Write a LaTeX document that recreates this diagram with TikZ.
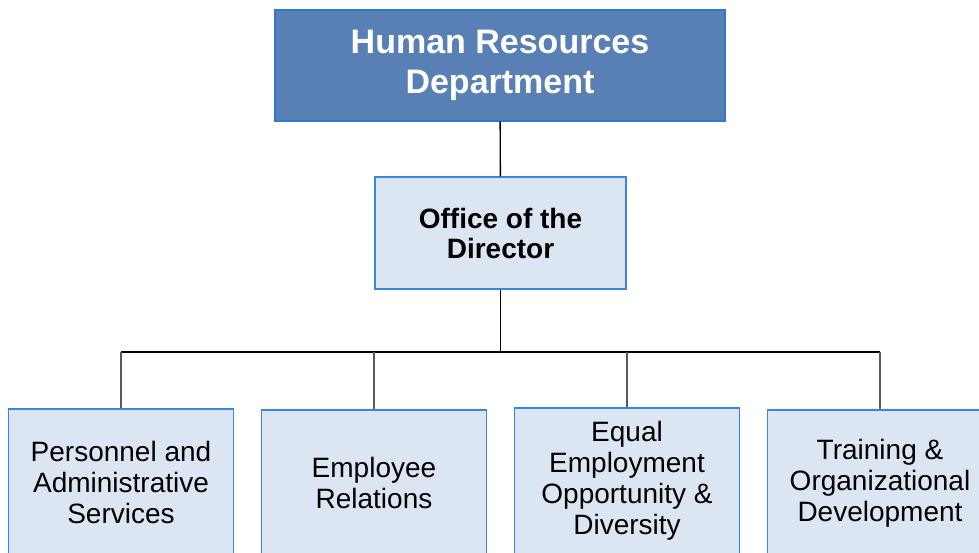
\documentclass[tikz,border=0pt]{standalone}
\usepackage{fontspec}
\setmainfont{Liberation Sans}
\begin{document}
\begin{tikzpicture}[x=0.5pt, y=-0.5pt,
  unitbox/.style={draw=unitborder, line width=0.6pt, fill=unitfill, align=center,
    inner sep=0pt, font=\fontsize{14}{15.5}\selectfont},
  link/.style={line width=0.7pt}]
  % Define colors for the boxes
  \definecolor{deptfill}{RGB}{88,128,180}
  \definecolor{unitfill}{RGB}{220,230,242}
  \definecolor{deptborder}{RGB}{45,120,215}
  \definecolor{unitborder}{RGB}{55,135,225}
  \definecolor{branchline}{RGB}{90,90,90}

  % Picture frame
  \useasboundingbox (0,0) rectangle (979,552);
  \clip (0,0) rectangle (979,552);

  % Department and director
  \node[draw=deptborder, line width=0.6pt, fill=deptfill, text=white, align=center,
    minimum width=225pt, minimum height=55.5pt, font=\fontsize{17}{20}\selectfont\bfseries]
    (hr) at (500,65.5) {Human Resources\\Department};
  \node[draw=unitborder, line width=0.6pt, fill=unitfill, align=center,
    minimum width=125.5pt, minimum height=56pt, font=\fontsize{14}{15}\selectfont\bfseries]
    (dir) at (500.5,233) {Office of the\\Director};

  % Divisions
  \node[unitbox, minimum width=112.5pt, minimum height=73pt] (pas) at (121,482) {Personnel and\\Administrative\\Services};
  \node[unitbox, minimum width=112.5pt, minimum height=73pt] (er) at (374,483) {Employee\\Relations};
  \node[unitbox, minimum width=112.5pt, minimum height=73pt] (eeo) at (627,481) {Equal\\Employment\\Opportunity \&\\Diversity};
  \node[unitbox, minimum width=112.5pt, minimum height=73pt] (tod) at (880,483) {Training \&\\Organizational\\Development};

  % Connectors
  \coordinate (bus) at (500.5,352);
  \draw[link] (hr) -- (dir);
  \draw[link] (dir) -- (bus);
  \draw[link] (pas.north |- bus) -- (tod.north |- bus);
  \draw[link, draw=branchline] (pas.north |- bus) -- (pas.north);
  \draw[link, draw=branchline] (er.north |- bus) -- (er.north);
  \draw[link, draw=branchline] (eeo.north |- bus) -- (eeo.north);
  \draw[link, draw=branchline] (tod.north |- bus) -- (tod.north);
\end{tikzpicture}
\end{document}
